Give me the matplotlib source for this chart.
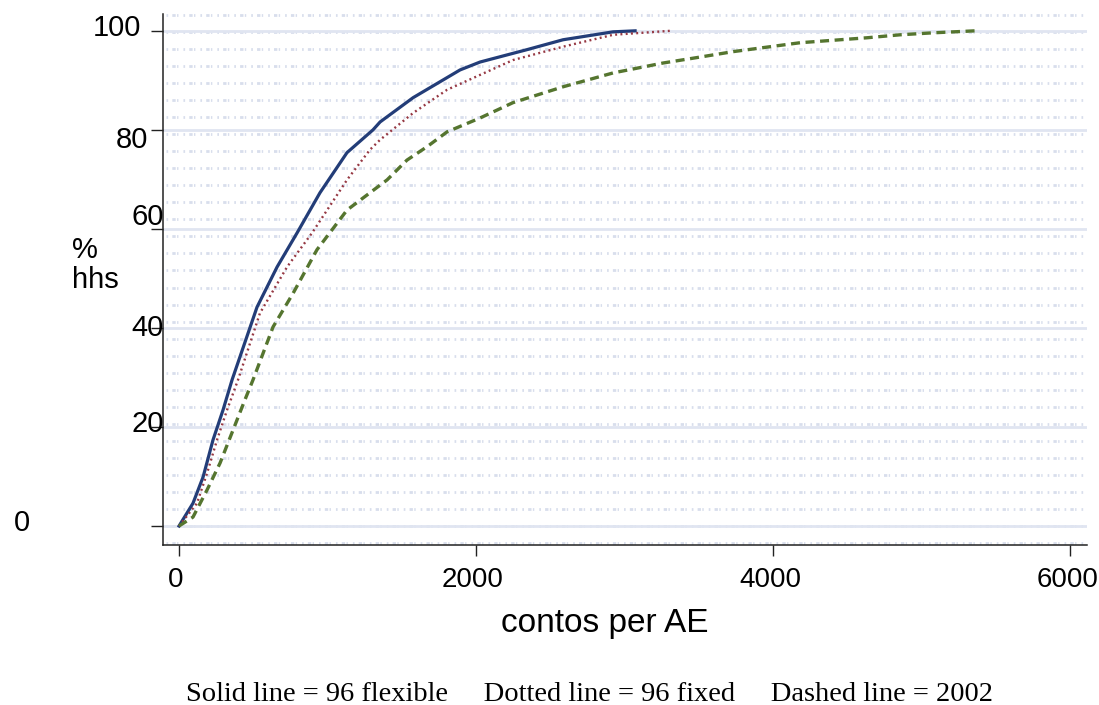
import numpy as np
import matplotlib
matplotlib.use("Agg")
import matplotlib.pyplot as plt
from matplotlib.transforms import ScaledTranslation

plt.rcParams['lines.scale_dashes'] = False

# ---- data ----
flex_x = [0, 94, 162, 229, 296, 357, 525, 660, 795, 949, 1131, 1306, 1354, 1576, 1892, 2027, 2343, 2586, 2923, 3071]
flex_y = [0, 4.6, 9.9, 17.4, 23.4, 29.5, 44.2, 52.3, 59.2, 67.3, 75.4, 80.0, 81.6, 86.5, 92.1, 93.7, 96.2, 98.2, 99.8, 100]

fixed_x = [0, 121, 189, 256, 323, 397, 545, 727, 896, 1131, 1286, 1354, 1576, 1805, 2027, 2249, 2586, 2923, 3306]
fixed_y = [0, 4.6, 10.7, 17.4, 23.4, 29.5, 43, 52.3, 59.2, 69.9, 76, 78, 83.4, 88.1, 91.1, 94.1, 96.8, 99.2, 100]

y2002_x = [0, 94, 189, 276, 364, 444, 498, 633, 768, 929, 1131, 1401, 1535, 1670, 1805, 2027, 2249, 2586,
           2923, 3259, 3508, 3731, 4182, 4633, 4855, 5077, 5360]
y2002_y = [0, 1.8, 7.3, 12.7, 19.4, 25.5, 29.5, 40.2, 47, 55.8, 63.8, 69.9, 73.9, 76.6, 79.6, 82.4, 85.5, 88.7,
           91.5, 93.5, 94.7, 95.8, 97.6, 98.6, 99.2, 99.6, 100]

x_ticks = [0, 2000, 4000, 6000]
y_ticks = [0, 20, 40, 60, 80, 100]
y_tick_labels = ["0", "20", "40", "60", "80", "100"]
x_label = "contos per AE"
y_label = "%\nhhs"
note = "Solid line = 96 flexible     Dotted line = 96 fixed     Dashed line = 2002"

W, H = 1099, 705
fig = plt.figure(figsize=(W / 100, H / 100), dpi=100)
ax = fig.add_axes([163 / W, 1 - 545 / H, (1087 - 163) / W, (545 - 14) / H])

ax.set_xlim(-108, 6114)
ax.set_ylim(-3.84, 103.4)

# background dotted pattern rows
pat_rows = np.linspace((545 - 543) / 531, (545 - 15) / 531, 32)
for r in pat_rows:
    ax.plot([0.003, 0.997], [r, r], transform=ax.transAxes, color='#d8deec', lw=2.0,
            linestyle=(0, (1.2, 3.0, 2.4, 1.0, 1.0, 3.6)), zorder=0.5, solid_capstyle='butt')

# major gridlines
for yt in y_ticks:
    ax.axhline(yt, color='#e0e5f1', lw=2.0, zorder=0.6)

# curves
ax.plot(flex_x, flex_y, color='#233d78', lw=2.3, zorder=3)
ax.plot(fixed_x, fixed_y, color='#963843', lw=1.7, linestyle=(0, (1.4, 2.4)), zorder=3)
ax.plot(y2002_x, y2002_y, color='#55752f', lw=2.4, linestyle=(0, (6.5, 4.0)), zorder=3)

# spines
for s in ['top', 'right']:
    ax.spines[s].set_visible(False)
for s in ['left', 'bottom']:
    ax.spines[s].set_linewidth(1.1)
    ax.spines[s].set_color('#222222')

ax.set_xticks(x_ticks)
ax.set_xticklabels([str(v) for v in x_ticks], fontsize=20, family='Liberation Sans')
ax.tick_params(axis='x', length=8, width=1.0, pad=8, color='#222222')
shift = ScaledTranslation(-3 / 100, 0, fig.dpi_scale_trans)
for lbl in ax.get_xticklabels():
    lbl.set_transform(lbl.get_transform() + shift)
ax.set_yticks(y_ticks)
ax.set_yticklabels([])
ax.tick_params(axis='y', length=9, width=1.0, color='#222222')

# y tick labels placed as in the reference (odd Stata positions)
lab_pos = {  # label: (right edge px, center y px)
    "0": (30, 523), "20": (164, 424), "40": (164, 328), "60": (164, 217), "80": (148, 140), "100": (141, 28)}
for lab in y_tick_labels:
    xr, yc = lab_pos[lab]
    fig.text(xr / W, 1 - yc / H, lab, ha='right', va='center', fontsize=21, family='Liberation Sans')

fig.text(72 / W, 1 - 265 / H, y_label, ha='left', va='center', fontsize=21, family='Liberation Sans',
         linespacing=1.1)
fig.text(605 / W, 1 - 632 / H, x_label, ha='center', va='baseline', fontsize=24, family='Liberation Sans')
fig.text(590 / W, 1 - 701 / H, note, ha='center', va='baseline', fontsize=20.5, family='Liberation Serif')

fig.savefig("out.png", dpi=100)
